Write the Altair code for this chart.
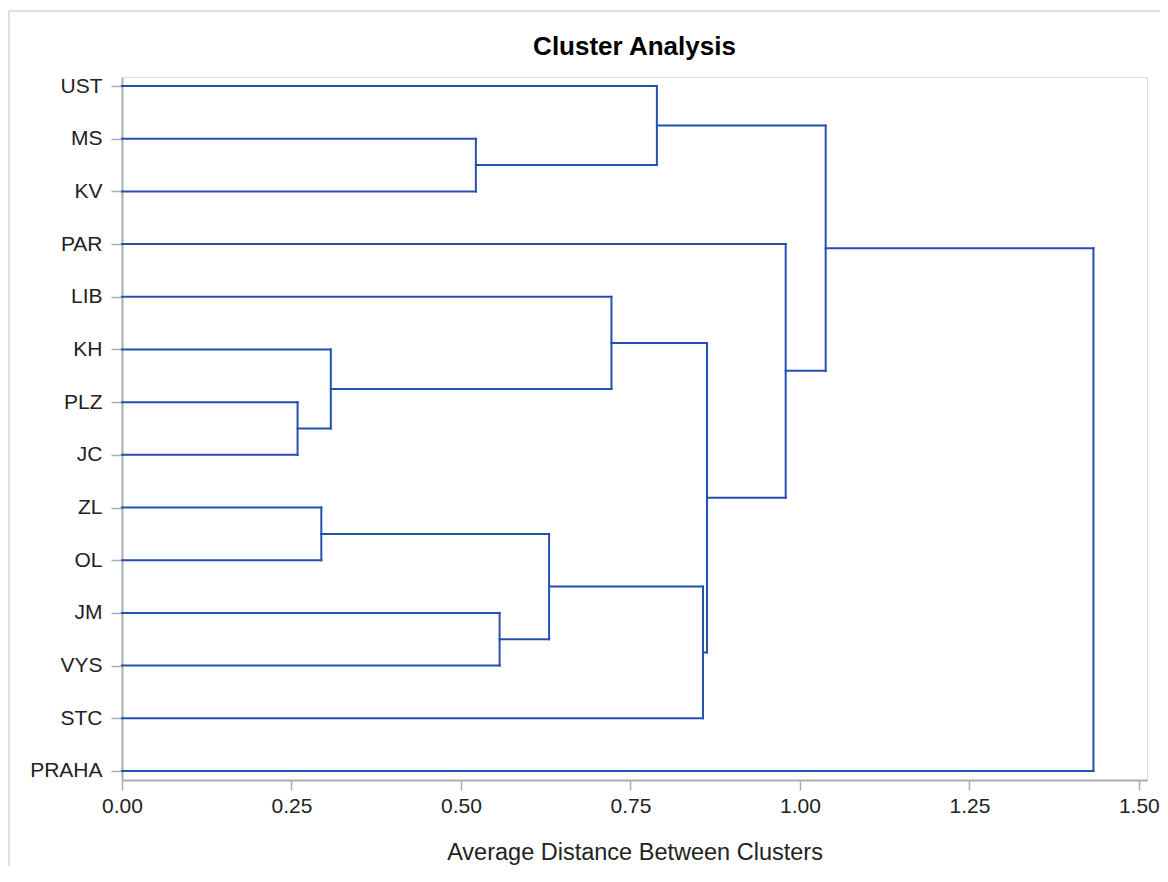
import json
import altair as alt
import pandas as pd

# ---- data ----
leaves = ["UST", "MS", "KV", "PAR", "LIB", "KH", "PLZ", "JC",
          "ZL", "OL", "JM", "VYS", "STC", "PRAHA"]

# merge k (1-based, referenced as "N<k>") joins merge_left[k-1] and merge_right[k-1]
merge_left = ["PLZ", "ZL", "KH", "MS", "JM", "N2", "LIB", "UST", "N6", "N7", "PAR", "N8", "N12"]
merge_right = ["JC", "OL", "N1", "KV", "VYS", "N5", "N3", "N4", "STC", "N9", "N10", "N11", "PRAHA"]
merge_height = [0.259, 0.294, 0.308, 0.522, 0.557, 0.630, 0.722, 0.789,
                0.857, 0.863, 0.979, 1.038, 1.433]

x_ticks = [0.0, 0.25, 0.5, 0.75, 1.0, 1.25, 1.5]

# ---- build dendrogram segments ----
pos = {name: (float(i), 0.0) for i, name in enumerate(leaves)}
rows = []
for k, (a, b, h) in enumerate(zip(merge_left, merge_right, merge_height), start=1):
    ya, ha = pos[a]
    yb, hb = pos[b]
    rows.append({"x": ha, "x2": h, "y": ya, "y2": ya})
    rows.append({"x": hb, "x2": h, "y": yb, "y2": yb})
    rows.append({"x": h, "x2": h, "y": ya, "y2": yb})
    pos[f"N{k}"] = ((ya + yb) / 2.0, h)
seg = pd.DataFrame(rows)

label_expr = json.dumps(leaves) + "[datum.value]"
FONT = "Liberation Sans"
GRAY = "#a9adb1"

lines = alt.Chart(seg).mark_rule(
    color="#2450b0", strokeWidth=2, strokeCap="square"
).encode(
    x=alt.X(
        "x:Q",
        scale=alt.Scale(domain=[0, 1.512], nice=False, zero=False),
        axis=alt.Axis(
            values=x_ticks, format=".2f", title="Average Distance Between Clusters",
            grid=False, tickSize=10, tickColor=GRAY, tickWidth=1.5,
            domainColor=GRAY, domainWidth=2, labelFlush=False,
            labelFont=FONT, labelFontSize=21, labelColor="#222222", labelPadding=5,
            titleFont=FONT, titleFontSize=23.5, titleFontWeight="normal",
            titleColor="#222222", titlePadding=24,
        ),
    ),
    x2="x2:Q",
    y=alt.Y(
        "y:Q",
        scale=alt.Scale(domain=[-0.171, 13.171], reverse=True, nice=False, zero=False),
        axis=alt.Axis(
            values=list(range(len(leaves))), labelExpr=label_expr, title=None,
            grid=False, tickSize=11, tickColor=GRAY, tickWidth=1.5,
            domainColor=GRAY, domainWidth=2,
            labelFont=FONT, labelFontSize=21, labelColor="#222222", labelPadding=9,
        ),
    ),
    y2="y2:Q",
)

# light page frame of the original graphic
frame = alt.Chart(pd.DataFrame({"f": [0]})).mark_rect(
    fill=None, stroke="#d4d4d4", strokeWidth=1.5
).encode(
    x=alt.value(-113), y=alt.value(-66), x2=alt.value(1200), y2=alt.value(900)
)

chart = alt.layer(frame, lines).properties(
    width=1025,
    height=703,
    title=alt.Title(
        "Cluster Analysis", font=FONT, fontSize=26, fontWeight="bold",
        color="#000000", anchor="middle", frame="group",
        baseline="alphabetic", offset=0, dy=71,
    ),
    autosize=alt.AutoSizeParams(type="none"),
    padding={"left": 114, "top": 69, "right": 13, "bottom": 86},
).configure_view(
    stroke=GRAY, strokeWidth=2
).configure(background="white")

chart.save("out.html", embed_options={"renderer": "svg", "actions": False})
